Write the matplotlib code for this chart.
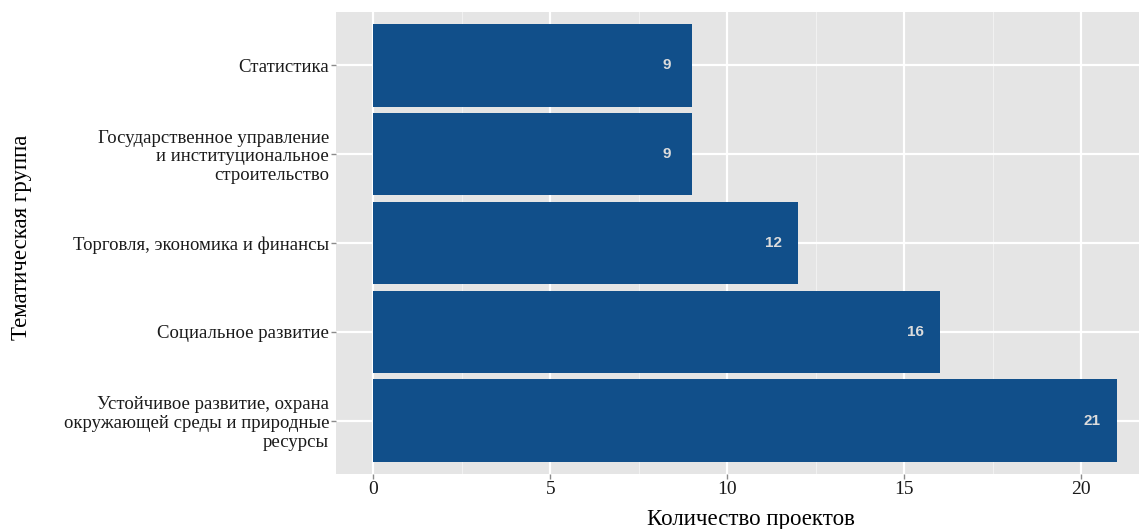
import matplotlib
matplotlib.use('Agg')
import matplotlib.pyplot as plt

plt.rcParams['font.family'] = ['Liberation Serif', 'DejaVu Serif']

categories = ['Устойчивое развитие, охрана\nокружающей среды и природные\nресурсы',
              'Социальное развитие',
              'Торговля, экономика и финансы',
              'Государственное управление\nи институциональное\nстроительство',
              'Статистика']
counts = [21, 16, 12, 9, 9]
xticks = [0, 5, 10, 15, 20]
xminor = [2.5, 7.5, 12.5, 17.5]

bar_color = '#114F8A'

W, H = 1139, 529
fig = plt.figure(figsize=(W / 100, H / 100), dpi=100)
# panel runs past the right edge of the picture, as in the original
ax = fig.add_axes((336 / W, 1 - 474 / H, (1154 - 336) / W, (474 - 12) / H))
ax.set_facecolor('#E5E5E5')

ypos = list(range(len(categories)))
ax.barh(ypos, counts, height=0.93, color=bar_color, zorder=3)

for y, v in zip(ypos, counts):
    ax.text(v - 0.7, y, str(v), ha='center', va='center', fontsize=11,
            fontweight='bold', color='#DCDCDC', family='Liberation Sans', zorder=4)

ax.set_xlim(-1.05, 22.05)
ax.set_ylim(-0.6, 4.6)

ax.set_xticks(xticks)
ax.set_xticks(xminor, minor=True)
ax.set_yticks(ypos)
ax.set_yticklabels(categories, fontsize=13.5, linespacing=1.12, color='#1A1A1A')
ax.set_xticklabels([str(t) for t in xticks], fontsize=14, color='#1A1A1A')

ax.grid(True, which='major', color='white', linewidth=1.6, zorder=1)
ax.grid(True, which='minor', axis='x', color='#F2F2F2', linewidth=0.7, zorder=1)
ax.set_axisbelow(True)

for s in ax.spines.values():
    s.set_visible(False)

ax.tick_params(axis='both', which='major', length=3.5, width=1, color='#8A8A8A', pad=1.5)
ax.tick_params(axis='both', which='minor', length=0)

ax.set_xlabel('Количество проектов', fontsize=16.5)
ax.set_ylabel('Тематическая группа', fontsize=16.5)
ax.xaxis.set_label_coords((751 - 336) / (1154 - 336), -(519 - 474) / (474 - 12))
ax.yaxis.set_label_coords(-(336 - 22) / (1154 - 336), (474 - 237) / (474 - 12))
ax.xaxis.label.set_va('center')
ax.yaxis.label.set_va('center')

plt.savefig('out.png', dpi=100)
